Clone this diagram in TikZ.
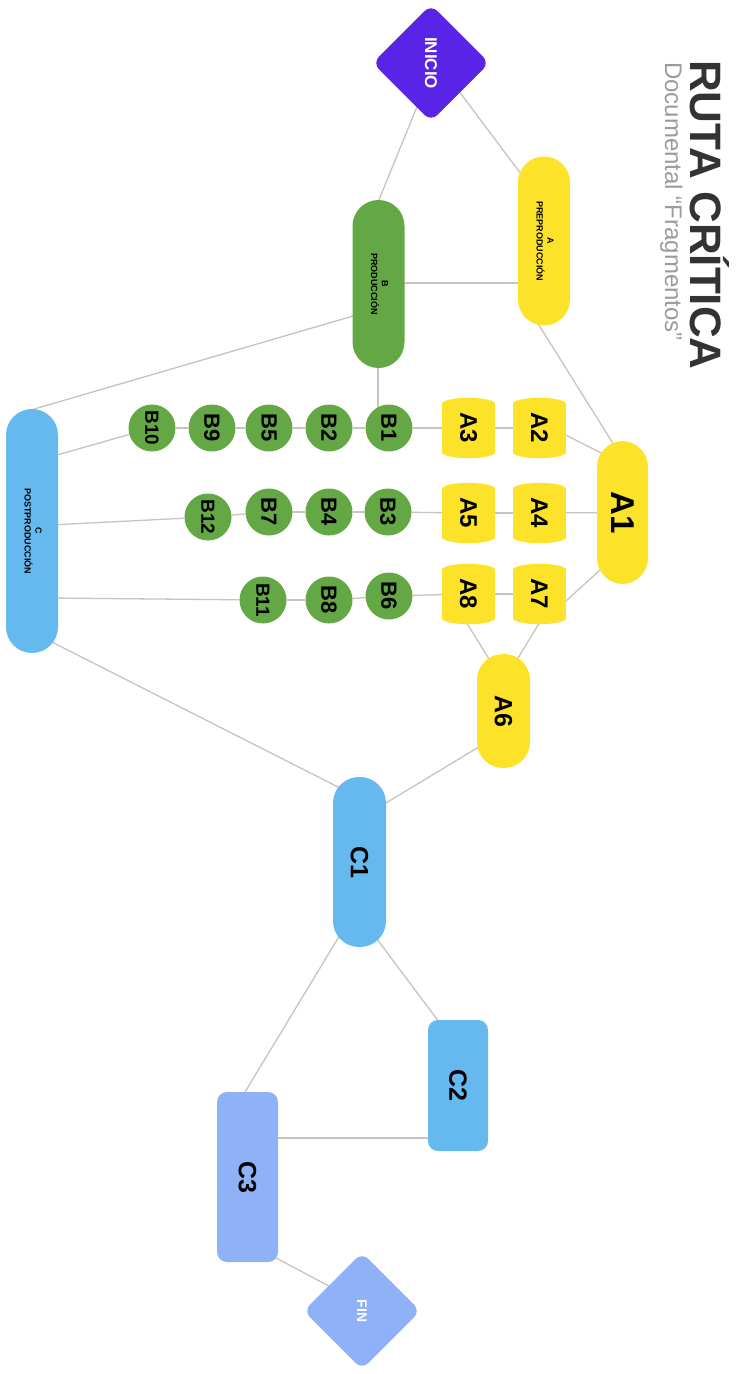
\documentclass[tikz,border=0pt]{standalone}
\usepackage{fontspec}
\setmainfont{Liberation Sans}
\usetikzlibrary{shapes.geometric,calc,backgrounds}
\definecolor{cpurple}{HTML}{5A24E6}
\definecolor{cyellow}{HTML}{FCE32A}
\definecolor{cgreen}{HTML}{63A845}
\definecolor{cblue}{HTML}{66B9EE}
\definecolor{cperi}{HTML}{8FB1F7}
\definecolor{lcol}{HTML}{C9C3BB}
\definecolor{ctitle}{HTML}{333333}
\definecolor{csub}{HTML}{9B9B9B}
\begin{document}
\begin{tikzpicture}[x=1pt,y=-1pt,
  stad/.style={rectangle, rounded corners=26pt, minimum width=52pt, inner sep=0pt, text=black},
  small/.style={font=\fontsize{9}{10}\selectfont\bfseries},
  big/.style={font=\fontsize{25}{25}\selectfont\bfseries},
  barrel/.style={rectangle, fill=cyellow, minimum width=53pt, minimum height=48pt, inner sep=0pt, font=\fontsize{24}{24}\selectfont\bfseries},
  bcirc/.style={circle, fill=cgreen, minimum size=47pt, inner sep=0pt, font=\fontsize{22}{22}\selectfont\bfseries},
  bsmall/.style={font=\fontsize{19}{19}\selectfont\bfseries},
  dia/.style={diamond, minimum width=117pt, minimum height=117pt, inner sep=0pt, rounded corners=9pt, text=white},
  crect/.style={rectangle, rounded corners=10pt, inner sep=0pt, font=\fontsize{25}{25}\selectfont\bfseries},
  ln/.style={draw=lcol, line width=1.3pt}]
\useasboundingbox (0,0) rectangle (744,1374);

% title
\node[rotate=-90, anchor=base west, inner sep=0pt, text=ctitle, font=\fontsize{44}{44}\selectfont\bfseries] (title) at (690,60) {RUTA CRÍTICA};
\node[rotate=-90, anchor=base west, inner sep=0pt, text=csub, font=\fontsize{24}{24}\selectfont] (sub) at (665,62) {Documental “Fragmentos”};

% diamonds
\node[dia, fill=cpurple, font=\fontsize{17}{17}\selectfont\bfseries] (INICIO) at (431,63) {\rotatebox{-90}{INICIO}};
\node[dia, fill=cperi, font=\fontsize{14}{14}\selectfont\bfseries] (FIN) at (362,1311) {\rotatebox{-90}{FIN}};

% phases
\node[stad, fill=cyellow, minimum height=169pt, small] (A) at (544,241) {\rotatebox{-90}{\begin{tabular}{@{}c@{}}A\\PREPRODUCCIÓN\end{tabular}}};
\node[stad, fill=cgreen, minimum height=168pt, small] (B) at (378.5,284) {\rotatebox{-90}{\begin{tabular}{@{}c@{}}B\\PRODUCCIÓN\end{tabular}}};
\node[stad, fill=cblue, minimum height=244pt, small] (C) at (32,531) {\rotatebox{-90}{\begin{tabular}{@{}c@{}}C\\POSTPRODUCCIÓN\end{tabular}}};

% A tasks
\node[stad, fill=cyellow, minimum width=51pt, minimum height=143pt, font=\fontsize{33}{33}\selectfont\bfseries] (A1) at (622.5,512.5) {\rotatebox{-90}{A1}};
\node[stad, fill=cyellow, minimum width=53pt, minimum height=114pt, big] (A6) at (503.5,711) {\rotatebox{-90}{A6}};
\node[barrel] (A2) at (539.5,428) {\rotatebox{-90}{A2}};
\node[barrel] (A3) at (468.5,428) {\rotatebox{-90}{A3}};
\node[barrel] (A4) at (539.5,513) {\rotatebox{-90}{A4}};
\node[barrel] (A5) at (468.5,513) {\rotatebox{-90}{A5}};
\node[barrel] (A7) at (539.5,594) {\rotatebox{-90}{A7}};
\node[barrel] (A8) at (468.5,594) {\rotatebox{-90}{A8}};
\foreach \n in {A2,A3,A4,A5,A7,A8}{
  \fill[cyellow] (\n.north) ellipse [x radius=26.5pt, y radius=6pt];
  \fill[cyellow] (\n.south) ellipse [x radius=26.5pt, y radius=6pt];
}

% B tasks
\node[bcirc] (B1) at (389,428) {\rotatebox{-90}{B1}};
\node[bcirc] (B2) at (329,428) {\rotatebox{-90}{B2}};
\node[bcirc] (B5) at (269,428) {\rotatebox{-90}{B5}};
\node[bcirc] (B9) at (212,428) {\rotatebox{-90}{B9}};
\node[bcirc, bsmall] (B10) at (152,428) {\rotatebox{-90}{B10}};
\node[bcirc] (B3) at (388,512) {\rotatebox{-90}{B3}};
\node[bcirc] (B4) at (329,512) {\rotatebox{-90}{B4}};
\node[bcirc] (B7) at (269,512) {\rotatebox{-90}{B7}};
\node[bcirc, bsmall] (B12) at (208,517) {\rotatebox{-90}{B12}};
\node[bcirc] (B6) at (389,596) {\rotatebox{-90}{B6}};
\node[bcirc] (B8) at (329,600) {\rotatebox{-90}{B8}};
\node[bcirc, bsmall] (B11) at (263,600) {\rotatebox{-90}{B11}};

% C tasks
\node[stad, fill=cblue, minimum width=53pt, minimum height=170pt, big] (C1) at (359.5,862) {\rotatebox{-90}{C1}};
\node[crect, fill=cblue, minimum width=60pt, minimum height=131pt] (C2) at (458,1085.5) {\rotatebox{-90}{C2}};
\node[crect, fill=cperi, minimum width=61pt, minimum height=170pt] (C3) at (247.5,1177) {\rotatebox{-90}{C3}};

\begin{pgfonlayer}{background}
\draw[ln] ($(INICIO)+(21,19)$) -- ($(A)+(-14,-55)$);
\draw[ln] ($(INICIO)+(-8,29)$) -- ($(B)+(-4.5,-72)$);
\draw[ln] ($(B)+(0,-1)$) -- ($(A)+(0,42)$);
\draw[ln] ($(A)+(-12,73)$) -- ($(A1)+(-3.5,-59.5)$);
\draw[ln] ($(B)+(-0.5,60)$) -- ($(B1)+(-11,-10)$);
\draw[ln] ($(B)+(-18.5,30)$) -- ($(C)+(-8,-119)$);
\draw[ln] ($(C)+(18,-74)$) -- (B10);
\draw[ln] ($(C)+(18,-6)$) -- (B12);
\draw[ln] ($(C)+(18,67)$) -- (B11);
\draw[ln] ($(C)+(8,105)$) -- ($(C1)+(-13.5,-71)$);
\draw[ln] ($(A6)+(-16.5,31)$) -- ($(C1)+(16.5,-53)$);
\draw[ln] ($(A7)+(3.5,23)$) -- ($(A6)+(8.5,-43)$);
\draw[ln] ($(A8)+(-5.5,23)$) -- ($(A6)+(-9.5,-44)$);
\draw[ln] ($(A1)+(-15.5,-56.5)$) -- ($(A2)+(16.5,2)$);
\draw[ln] (A1) -- (A4);
\draw[ln] ($(A1)+(-12.5,48.5)$) -- ($(A7)+(16.5,16)$);
\draw[ln] (A2) -- (A3);
\draw[ln] (A3) -- (B1);
\draw[ln] (B1) -- (B2);
\draw[ln] (B2) -- (B5);
\draw[ln] (B5) -- (B9);
\draw[ln] (B9) -- (B10);
\draw[ln] (A4) -- (A5);
\draw[ln] (A5) -- (B3);
\draw[ln] (B3) -- (B4);
\draw[ln] (B4) -- (B7);
\draw[ln] (B7) -- (B12);
\draw[ln] (A7) -- (A8);
\draw[ln] (A8) -- (B6);
\draw[ln] (B6) -- (B8);
\draw[ln] (B8) -- (B11);
\draw[ln] ($(C1)+(11.5,69)$) -- ($(C2)+(-13,-55.5)$);
\draw[ln] ($(C1)+(-13.5,63)$) -- ($(C3)+(-8.5,-75)$);
\draw[ln] ($(C3)+(0,-39)$) -- ($(C2)+(0,52.5)$);
\draw[ln] ($(C3)+(17.5,75)$) -- ($(FIN)+(-22,-19)$);
\end{pgfonlayer}
\end{tikzpicture}
\end{document}
